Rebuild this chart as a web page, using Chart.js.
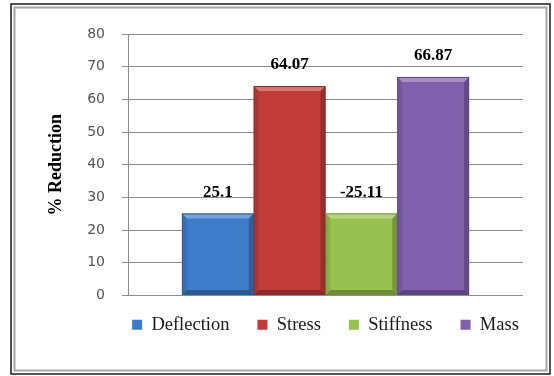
<!DOCTYPE html>
<html>
<head>
<meta charset="utf-8">
<script src="https://cdn.jsdelivr.net/npm/chart.js@4.4.0/dist/chart.umd.min.js"></script>
<style>
    html, body { margin: 0; padding: 0; background: #ffffff; }
    #wrap { width: 554px; height: 376px; position: relative; }
</style>
</head>
<body>
<div id="wrap"><canvas id="reductionChart" width="554" height="376"></canvas></div>
<script>
// البيانات
const categories = ['Deflection', 'Stress', 'Stiffness', 'Mass'];
const reductions = [25.1, 64.07, 25.11, 66.87];
const valueLabels = ['25.1', '64.07', '-25.11', '66.87'];
const yMin = 0;
const yMax = 80;
const yStep = 10;
const barColors = ['#3d7cc8', '#c13b39', '#98c24f', '#8060ad'];
const edgeColors = ['#2a5a94', '#8e2a29', '#6f9238', '#5c4480'];

// إطار الرسم
const framePlugin = {
    id: 'frame',
    beforeDraw(chart) {
        const ctx = chart.ctx;
        ctx.save();
        ctx.fillStyle = '#ffffff';
        ctx.fillRect(0, 0, chart.width, chart.height);
        ctx.strokeStyle = '#1a1a1a';
        ctx.lineWidth = 1.5;
        ctx.strokeRect(11, 4, 539, 370);
        ctx.strokeStyle = '#a6a6a6';
        ctx.lineWidth = 2;
        ctx.strokeRect(14.5, 7.5, 532, 363);
        ctx.restore();
    }
};

// توسيط وسيلة الإيضاح تحت منطقة الرسم
const legendCenterPlugin = {
    id: 'legendCenter',
    afterLayout(chart) {
        const lg = chart.legend;
        const area = chart.chartArea;
        const shift = (area.left + area.right) / 2 - (lg.left + lg.right) / 2;
        lg.left += shift;
        lg.right += shift;
    }
};

// تأثير الحواف البارزة للأعمدة
const bevelPlugin = {
    id: 'bevel',
    afterDatasetsDraw(chart) {
        const ctx = chart.ctx;
        ctx.save();
        chart.data.datasets.forEach((ds, i) => {
            const meta = chart.getDatasetMeta(i);
            meta.data.forEach(bar => {
                const p = bar.getProps(['x', 'y', 'base', 'width'], true);
                const l = p.x - p.width / 2, r = p.x + p.width / 2;
                const t = p.y, b = p.base;
                const e = 5;
                // أعلى فاتح
                ctx.fillStyle = 'rgba(255,255,255,0.30)';
                ctx.beginPath();
                ctx.moveTo(l, t); ctx.lineTo(r, t); ctx.lineTo(r - e, t + e); ctx.lineTo(l + e, t + e);
                ctx.closePath(); ctx.fill();
                // يسار
                ctx.fillStyle = 'rgba(0,0,0,0.10)';
                ctx.beginPath();
                ctx.moveTo(l, t); ctx.lineTo(l + e, t + e); ctx.lineTo(l + e, b - e); ctx.lineTo(l, b);
                ctx.closePath(); ctx.fill();
                // يمين
                ctx.fillStyle = 'rgba(0,0,0,0.22)';
                ctx.beginPath();
                ctx.moveTo(r, t); ctx.lineTo(r - e, t + e); ctx.lineTo(r - e, b - e); ctx.lineTo(r, b);
                ctx.closePath(); ctx.fill();
                // أسفل
                ctx.fillStyle = 'rgba(0,0,0,0.28)';
                ctx.beginPath();
                ctx.moveTo(l, b); ctx.lineTo(l + e, b - e); ctx.lineTo(r - e, b - e); ctx.lineTo(r, b);
                ctx.closePath(); ctx.fill();
                ctx.strokeStyle = edgeColors[i];
                ctx.lineWidth = 1;
                ctx.strokeRect(l + 0.5, t + 0.5, p.width - 1, b - t - 1);
            });
        });
        ctx.restore();
    }
};

// القيم فوق الأعمدة
const valueLabelPlugin = {
    id: 'valueLabels',
    afterDatasetsDraw(chart) {
        const ctx = chart.ctx;
        ctx.save();
        ctx.font = 'bold 17px "Liberation Serif", "Times New Roman", serif';
        ctx.fillStyle = '#000000';
        ctx.textAlign = 'center';
        ctx.textBaseline = 'middle';
        chart.data.datasets.forEach((ds, i) => {
            const bar = chart.getDatasetMeta(i).data[0];
            ctx.fillText(valueLabels[i], bar.x, bar.y - 21);
        });
        ctx.restore();
    }
};

const ctx = document.getElementById('reductionChart').getContext('2d');

new Chart(ctx, {
    type: 'bar',
    data: {
        labels: [''],
        datasets: categories.map((name, i) => ({
            label: name,
            data: [reductions[i]],
            backgroundColor: barColors[i],
            borderWidth: 0,
            categoryPercentage: 0.727,
            barPercentage: 1.0
        }))
    },
    options: {
        responsive: false,
        animation: false,
        devicePixelRatio: 1,
        layout: {
            padding: { top: 34, left: 40, right: 31, bottom: 24 }
        },
        plugins: {
            legend: {
                position: 'bottom',
                labels: {
                    boxWidth: 10,
                    boxHeight: 10,
                    padding: 28,
                    color: '#1a1a1a',
                    font: { family: '"Liberation Serif", "Times New Roman", serif', size: 18.5 }
                }
            },
            tooltip: { enabled: false }
        },
        scales: {
            x: {
                grid: { display: false },
                border: { display: false },
                ticks: { display: false },
                afterFit(scale) { scale.height = -8; }
            },
            y: {
                min: yMin,
                max: yMax,
                ticks: {
                    stepSize: yStep,
                    padding: 17,
                    color: '#555555',
                    font: { family: '"DejaVu Sans", Verdana, sans-serif', size: 14 }
                },
                grid: { color: '#8c8c8c', tickLength: 6 },
                border: { color: '#8c8c8c' },
                title: {
                    display: true,
                    text: '% Reduction',
                    color: '#000000',
                    padding: { top: 6, bottom: 0 },
                    font: { family: '"Liberation Serif", "Times New Roman", serif', size: 18, weight: 'bold' }
                },
                afterFit(scale) { scale.width = 88; }
            }
        }
    },
    plugins: [framePlugin, legendCenterPlugin, bevelPlugin, valueLabelPlugin]
});
</script>
</body>
</html>
